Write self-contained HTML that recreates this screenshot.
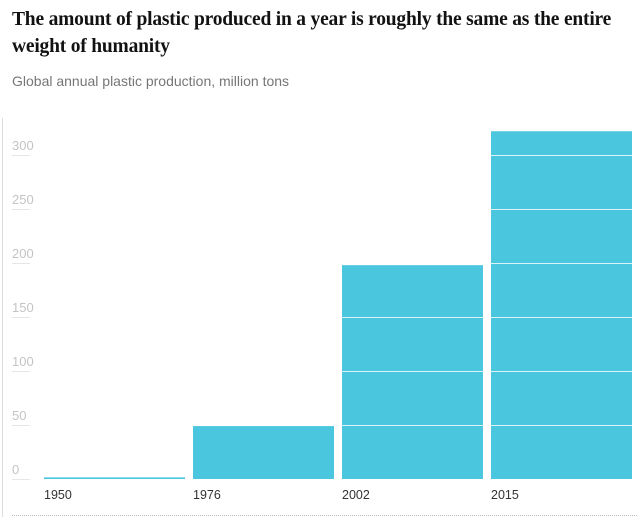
<!DOCTYPE html>
<html><head><meta charset="utf-8"><style>
body{margin:0;width:638px;height:517px;background:#fff;overflow:hidden;position:relative;font-family:"Liberation Sans",sans-serif}
#title{position:absolute;left:12px;top:6px;width:624px;font-family:"Liberation Serif",serif;font-weight:bold;font-size:19.5px;line-height:27px;color:#121212;letter-spacing:-0.2px}
#sub{position:absolute;left:12px;top:73px;font-size:14px;color:#767676}
svg{position:absolute;left:0;top:0}
</style></head><body>
<div id="title">The amount of plastic produced in a year is roughly the same as the entire weight of humanity</div>
<div id="sub">Global annual plastic production, million tons</div>
<svg id="c" width="638" height="517"></svg>
<script>
const categories=["1950","1976","2002","2015"];
const values=[1.5,49,198,322];
const ticks=[0,50,100,150,200,250,300];
const ns="http://www.w3.org/2000/svg",svg=document.getElementById('c');
const y0=479,k=1.08;
function y(v){return y0-v*k;}
function x(i){return 44+i*149;}
const bw=141;
function mk(t,a){const e=document.createElementNS(ns,t);for(const p in a)e.setAttribute(p,a[p]);svg.appendChild(e);return e;}
const ax=mk('line',{x1:2.5,y1:118,x2:2.5,y2:517,stroke:'#dcdcdc','stroke-width':1});


const base=mk('line',{x1:12,y1:515.5,x2:638,y2:515.5,stroke:'#bdbdbd','stroke-dasharray':'1,1'});


ticks.forEach(t=>{
 const l=mk('line',{x1:12,y1:y(t)+0.5,x2:30,y2:y(t)+0.5,stroke:'#e6e6e6'});
 
 
 const tx=mk('text',{x:12,y:y(t)-5,fill:'#c4c4c4','font-size':13,'font-family':'Liberation Sans, sans-serif'});
 tx.textContent=t;
 
 
});
values.forEach((v,i)=>{
 const r=mk('rect',{x:x(i),y:y(v),width:bw,height:Math.max(1,v*k),fill:'#4bc6df'});
 
 
 const tx=mk('text',{x:x(i),y:499,fill:'#333','font-size':12.5,'font-family':'Liberation Sans, sans-serif'});
 tx.textContent=categories[i];
 
 
});
ticks.slice(1).forEach(t=>{
 const l=mk('line',{x1:40,y1:y(t)+0.5,x2:638,y2:y(t)+0.5,stroke:'#fff','stroke-opacity':0.8});
 
 
});
</script>
</body></html>
